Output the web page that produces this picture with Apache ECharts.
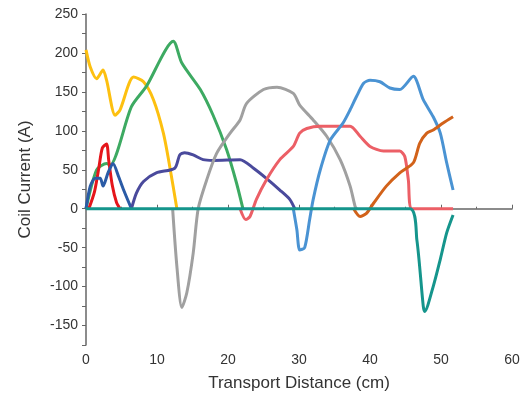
<!DOCTYPE html>
<html>
<head>
<meta charset="utf-8">
<script src="https://cdn.jsdelivr.net/npm/echarts@6/dist/echarts.min.js"></script>
<style>
  html, body { margin: 0; padding: 0; background: #fff; }
  #chart { width: 525px; height: 398px; }
</style>
</head>
<body>
<div id="chart"></div>
<script>
// coil current vs transport distance, [cm, A] pairs
var yellowCoil = [[0,204],[0.6,182],[1.5,167],[2.4,178],[2.9,165],[4.1,120],[4.8,127],[6.7,169],[8.1,163],[9.5,140],[10.9,97],[11.8,54],[12.8,0]];
var greenCoil = [[0,0],[1.5,50],[2.9,58],[3.4,56],[6.4,131],[8.5,157],[12.3,215],[13.5,187],[16.1,153],[17.9,120],[19.8,76],[21.2,33],[22.1,0]];
var redCoil = [[0.4,0],[1.2,22],[1.8,52],[2.3,78],[2.9,83],[3.2,62],[3.7,30],[4.3,8],[4.8,0]];
var blueCoil = [[0,0],[0.6,29],[1.3,39],[2,39],[2.4,29],[3.1,46],[3.8,58],[4.6,41],[5.3,24],[6.4,0]];
var purpleCoil = [[6.4,0],[7.1,20],[8.1,35],[9.9,46],[12.5,52],[13.2,69],[13.9,72],[15.1,69],[16.5,63],[17.9,62],[21.7,63],[23.6,52],[25.4,39],[27.3,24],[28.7,12],[29.4,0]];
var grayCoil = [[12.2,0],[12.8,-74],[13.5,-127],[14.2,-108],[15.1,-57],[15.8,0],[17,37],[18.4,71],[20.3,97],[21.7,114],[22.6,135],[25,153],[26.9,156],[29.2,148],[30.1,133],[32,114],[33.9,93],[35.8,63],[37.2,29],[37.9,3],[38.1,0]];
var pinkCoil = [[21.7,0],[22.5,-14],[23.1,-10],[24,12],[25.4,37],[27.3,63],[29.2,80],[30.1,97],[31.1,103],[33,106],[37.2,106],[38.6,93],[40,80],[41.9,74],[44.2,74],[44.9,67],[45.4,37],[45.9,0],[51.7,0]];
var skyCoil = [[29.2,0],[29.7,-27],[30.1,-53],[30.8,-50],[31.5,-14],[32,12],[33,50],[34.4,88],[36.2,110],[37.2,127],[38.1,144],[39.1,161],[40,165],[41.4,163],[42.8,155],[44.2,153],[46.1,170],[47.5,140],[48.9,118],[49.9,97],[50.8,59],[51.7,24]];
var orangeCoil = [[37.7,0],[38.6,-10],[39.5,-6],[40.5,7],[42.3,29],[44.2,46],[46.1,59],[47,84],[48,97],[48.9,101],[50.3,110],[51.7,118]];
var tealCoil = [[0,0],[45.6,0],[46.6,-40],[47.5,-125],[47.7,-132],[48.9,-100],[49.9,-65],[50.8,-31],[51.7,-8]];

var chart = echarts.init(document.getElementById('chart'));

function line(data, color) {
  return {
    type: 'line',
    data: data,
    smooth: 0.25,
    showSymbol: false,
    lineStyle: { color: color, width: 3 },
    itemStyle: { color: color }
  };
}

var option = {
  animation: false,
  grid: { left: 86, right: 13, top: 14, bottom: 53 },
  xAxis: {
    type: 'value',
    min: 0, max: 60, interval: 10,
    name: 'Transport Distance (cm)',
    nameLocation: 'middle',
    nameGap: 30,
    nameTextStyle: { fontFamily: 'Liberation Sans', fontSize: 17, color: '#333' },
    axisLine: { lineStyle: { color: '#666', width: 1.5 } },
    axisTick: { inside: true, length: 4, lineStyle: { color: '#666' } },
    minorTick: { show: true, splitNumber: 2, length: 2, lineStyle: { color: '#666' } },
    axisLabel: { fontFamily: 'Liberation Sans', fontSize: 14, color: '#333', margin: 8 },
    splitLine: { show: false }
  },
  yAxis: {
    type: 'value',
    min: -175, max: 250, interval: 25,
    name: 'Coil Current (A)',
    nameLocation: 'middle',
    nameGap: 52,
    nameTextStyle: { fontFamily: 'Liberation Sans', fontSize: 17, color: '#333' },
    axisLine: { show: true, lineStyle: { color: '#666', width: 1.5 } },
    axisTick: { length: 4, lineStyle: { color: '#666' } },
    axisLabel: {
      fontFamily: 'Liberation Sans', fontSize: 14, color: '#333', margin: 8,
      formatter: function (v) { return v % 50 === 0 ? v : ''; }
    },
    splitLine: { show: false }
  },
  series: [
    line(yellowCoil, '#FDC010'),
    line(greenCoil, '#3DAA62'),
    line(redCoil, '#E5161B'),
    line(blueCoil, '#2B5BA6'),
    line(purpleCoil, '#4A4A9C'),
    line(grayCoil, '#A0A0A0'),
    line(pinkCoil, '#EC5F66'),
    line(skyCoil, '#4A93D3'),
    line(orangeCoil, '#D2621A'),
    line(tealCoil, '#15958C')
  ]
};

chart.setOption(option);
</script>
</body>
</html>
